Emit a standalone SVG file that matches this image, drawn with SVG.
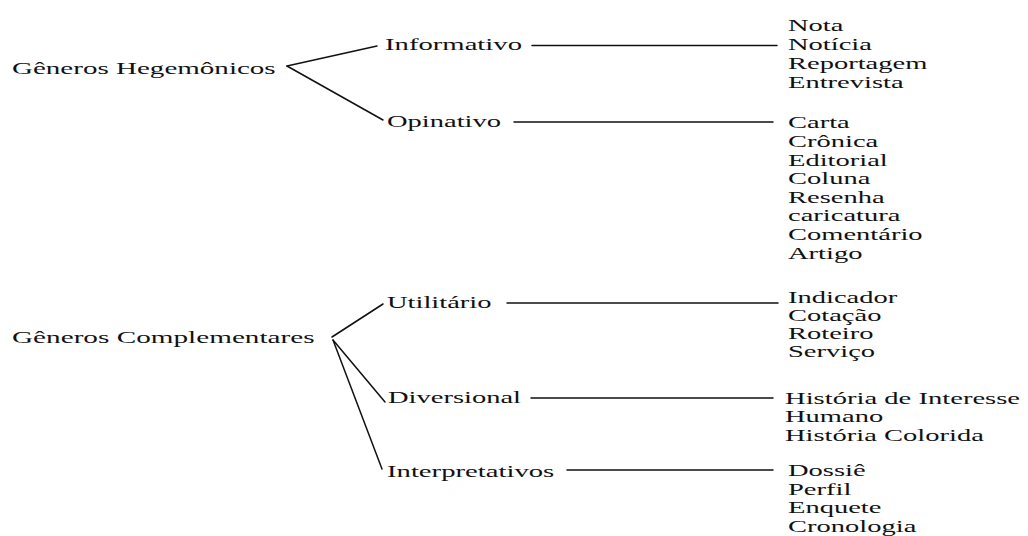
<svg xmlns="http://www.w3.org/2000/svg" width="1028" height="536" viewBox="0 0 1028 536">
<style>
text{font-family:"Liberation Serif","Times New Roman",serif;font-size:17.5px;fill:#111}
line{stroke:#111;stroke-width:1.5;stroke-linecap:round}
</style>
<rect width="1028" height="536" fill="#fff"/>
<g id="connectors">
<line x1="287" y1="66" x2="377" y2="46"/>
<line x1="287" y1="66" x2="383" y2="120"/>
<line x1="532" y1="45.5" x2="777" y2="45.5"/>
<line x1="514" y1="122" x2="773" y2="122"/>
<line x1="332" y1="337" x2="383" y2="304"/>
<line x1="333" y1="340" x2="385" y2="402"/>
<line x1="333" y1="340" x2="382" y2="469"/>
<line x1="507" y1="303" x2="778" y2="303"/>
<line x1="531" y1="398" x2="773" y2="398"/>
<line x1="567" y1="470" x2="773" y2="470"/>
</g>
<g id="hegemonicos"><text transform="matrix(1.66 0 0 1 12 74)">Gêneros Hegemônicos</text></g>
<g id="informativo"><text transform="matrix(1.64 0 0 1 385 50)">Informativo</text></g>
<g id="opinativo"><text transform="matrix(1.63 0 0 1 387 127)">Opinativo</text></g>
<g id="informativo-list">
<text transform="matrix(1.63 0 0 1 788 31)">Nota</text>
<text transform="matrix(1.63 0 0 1 788 50)">Notícia</text>
<text transform="matrix(1.63 0 0 1 788 69)">Reportagem</text>
<text transform="matrix(1.63 0 0 1 788 88)">Entrevista</text>
</g>
<g id="opinativo-list">
<text transform="matrix(1.63 0 0 1 788 128)">Carta</text>
<text transform="matrix(1.63 0 0 1 788 147)">Crônica</text>
<text transform="matrix(1.63 0 0 1 788 165.5)">Editorial</text>
<text transform="matrix(1.63 0 0 1 788 184)">Coluna</text>
<text transform="matrix(1.63 0 0 1 788 202.5)">Resenha</text>
<text transform="matrix(1.63 0 0 1 788 221)">caricatura</text>
<text transform="matrix(1.63 0 0 1 788 240)">Comentário</text>
<text transform="matrix(1.63 0 0 1 788 259)">Artigo</text>
</g>
<g id="complementares"><text transform="matrix(1.67 0 0 1 12 343)">Gêneros Complementares</text></g>
<g id="utilitario"><text transform="matrix(1.63 0 0 1 387 308)">Utilitário</text></g>
<g id="diversional"><text transform="matrix(1.63 0 0 1 388 403)">Diversional</text></g>
<g id="interpretativos"><text transform="matrix(1.64 0 0 1 387 477)">Interpretativos</text></g>
<g id="utilitario-list">
<text transform="matrix(1.63 0 0 1 788 303)">Indicador</text>
<text transform="matrix(1.63 0 0 1 788 321)">Cotação</text>
<text transform="matrix(1.63 0 0 1 788 339)">Roteiro</text>
<text transform="matrix(1.63 0 0 1 788 357)">Serviço</text>
</g>
<g id="diversional-list">
<text transform="matrix(1.635 0 0 1 785 404)">História de Interesse</text>
<text transform="matrix(1.63 0 0 1 785 422)">Humano</text>
<text transform="matrix(1.63 0 0 1 785 441)">História Colorida</text>
</g>
<g id="interpretativos-list">
<text transform="matrix(1.63 0 0 1 788 476)">Dossiê</text>
<text transform="matrix(1.63 0 0 1 788 495)">Perfil</text>
<text transform="matrix(1.63 0 0 1 788 513)">Enquete</text>
<text transform="matrix(1.63 0 0 1 788 532)">Cronologia</text>
</g>
</svg>
